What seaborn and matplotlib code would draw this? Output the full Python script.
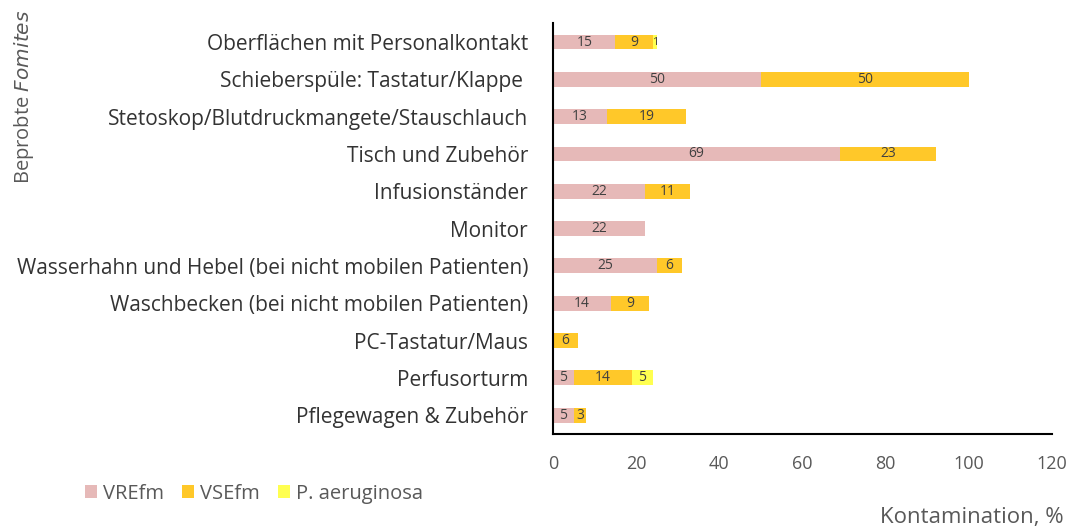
import numpy as np
import pandas as pd
import matplotlib
matplotlib.use('Agg')
import matplotlib.pyplot as plt
from matplotlib.patches import Patch
import seaborn as sns

categories = ['Oberflächen mit Personalkontakt',
              'Schieberspüle: Tastatur/Klappe ',
              'Stetoskop/Blutdruckmangete/Stauschlauch',
              'Tisch und Zubehör',
              'Infusionständer',
              'Monitor',
              'Wasserhahn und Hebel (bei nicht mobilen Patienten)',
              'Waschbecken (bei nicht mobilen Patienten)',
              'PC-Tastatur/Maus',
              'Perfusorturm',
              'Pflegewagen & Zubehör']
vrefm = [15, 50, 13, 69, 22, 22, 25, 14, 0, 5, 5]
vsefm = [9, 50, 19, 23, 11, 0, 6, 9, 6, 14, 3]
paeru = [1, 0, 0, 0, 0, 0, 0, 0, 0, 5, 0]

series = ['VREfm', 'VSEfm', 'P. aeruginosa']
colors = ['#E6B9B8', '#FFC829', '#FFFF50']

sns.set_style('white')
plt.rcParams['font.family'] = ['Open Sans', 'DejaVu Sans']

df = pd.DataFrame({'cat': categories, 'VREfm': vrefm, 'VSEfm': vsefm, 'P. aeruginosa': paeru})
df['c1'] = df['VREfm']
df['c2'] = df['c1'] + df['VSEfm']
df['c3'] = df['c2'] + df['P. aeruginosa']

fig = plt.figure(figsize=(10.74, 5.31), dpi=100)
ax = fig.add_axes([0.515, 0.183, 0.4645, 0.773])

# stacked bars: draw cumulative totals back to front
for col, color in zip(['c3', 'c2', 'c1'], colors[::-1]):
    sns.barplot(data=df, x=col, y='cat', color=color, width=0.4,
                orient='h', ax=ax, saturation=1, linewidth=0)

for i, row in df.iterrows():
    start = 0
    for s in series:
        v = row[s]
        if v > 0:
            ax.text(start + v / 2, i, f'{v}', ha='center', va='center',
                    fontsize=10 if v > 1 else 8, color='#404040')
        start += v

ax.set_xlim(0, 120)
ax.set_xticks(np.arange(0, 121, 20))
ax.set_ylim(len(categories) - 0.5, -0.5)
ax.set_xlabel('')
ax.set_ylabel('')
for side in ['top', 'right']:
    ax.spines[side].set_visible(False)
for side in ['left', 'bottom']:
    ax.spines[side].set_color('black')
    ax.spines[side].set_linewidth(1.5)
ax.tick_params(axis='x', colors='#595959', labelsize=13, length=0, pad=15)
ax.tick_params(axis='y', labelsize=15, length=0, pad=18, labelcolor='#333333')

fig.text(0.99, 0.005, 'Kontamination, %', ha='right', va='bottom',
         fontsize=16, color='#595959')
fig.text(0.022, 0.817, 'Beprobte $\\it{Fomites}$', rotation=90, ha='center', va='center',
         fontsize=14.5, color='#595959')

handles = [Patch(facecolor=c, edgecolor='none') for c in colors]
fig.legend(handles, series, loc='center left', bbox_to_anchor=(0.062, 0.07),
           ncol=3, frameon=False, fontsize=14.5, handlelength=0.6, handleheight=0.6,
           handletextpad=0.3, columnspacing=0.9, labelcolor='#595959')

fig.savefig('out.png', dpi=100)
